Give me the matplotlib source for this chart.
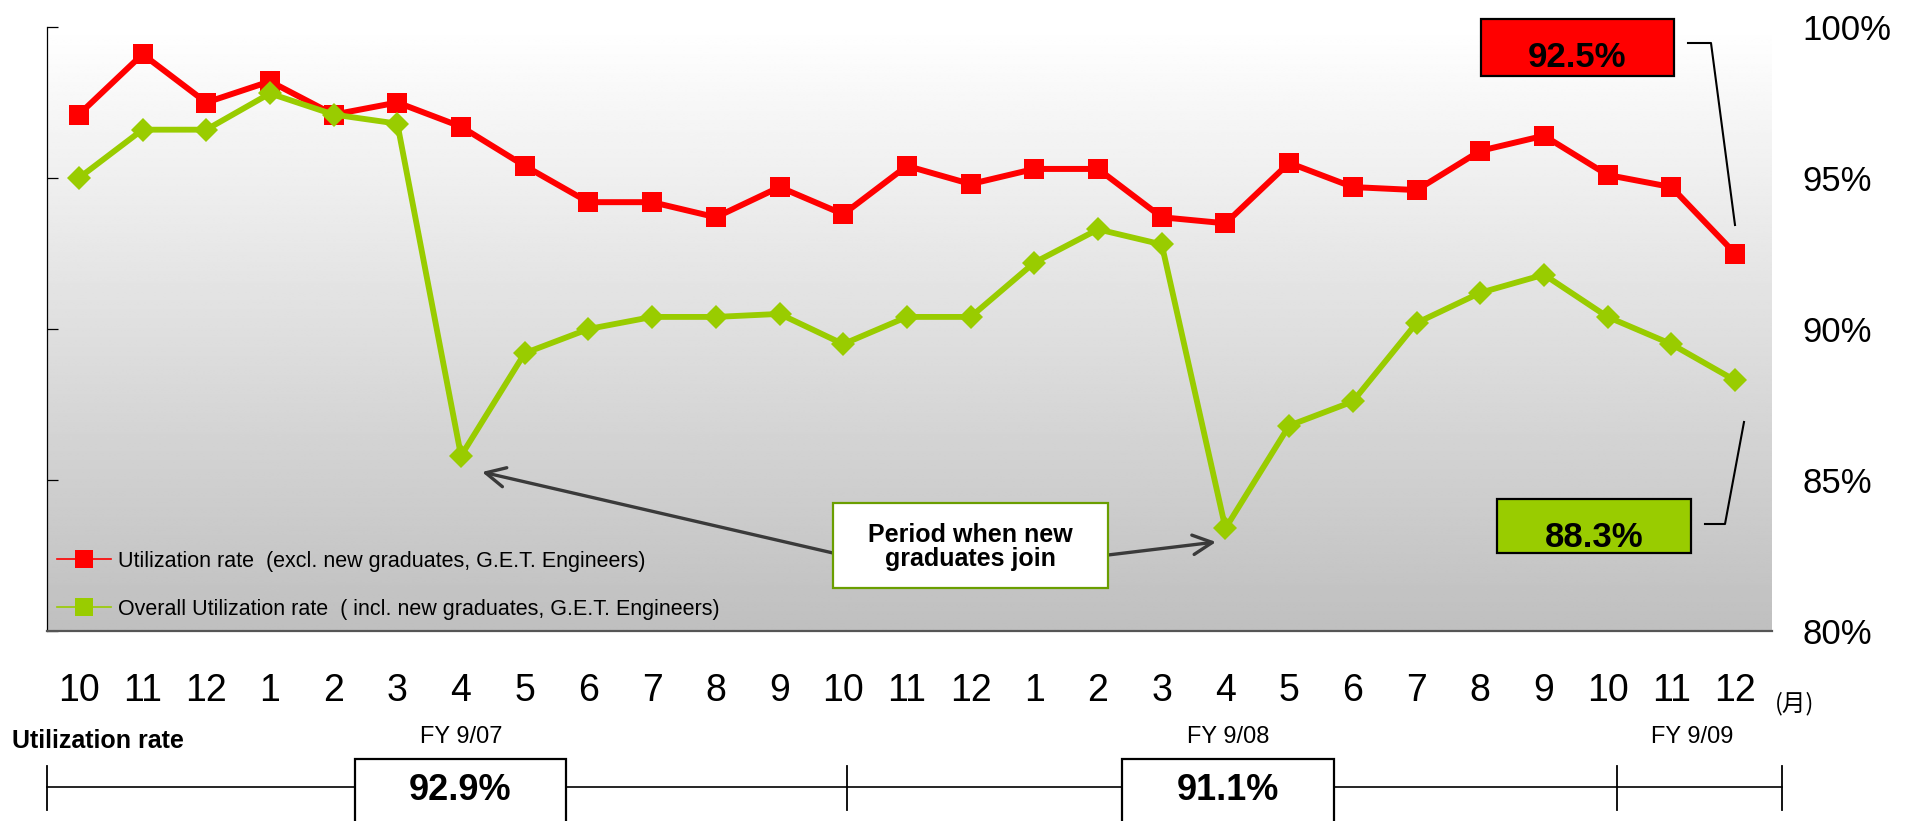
import numpy as np
import matplotlib
matplotlib.use("Agg")
import matplotlib.pyplot as plt
from matplotlib.lines import Line2D
from matplotlib.patches import Rectangle

plt.rcParams['font.family'] = ['Liberation Sans', 'DejaVu Sans']

# ---- data -------------------------------------------------------------
months = ["10", "11", "12",
          "1", "2", "3", "4", "5", "6", "7", "8", "9", "10", "11", "12",
          "1", "2", "3", "4", "5", "6", "7", "8", "9", "10", "11", "12"]

util_excl = [97.1, 99.1, 97.5, 98.2, 97.1, 97.5, 96.7, 95.4, 94.2, 94.2,
             93.7, 94.7, 93.8, 95.4, 94.8, 95.3, 95.3, 93.7, 93.5, 95.5,
             94.7, 94.6, 95.9, 96.4, 95.1, 94.7, 92.5]

util_incl = [95.0, 96.6, 96.6, 97.8, 97.1, 96.8, 85.8, 89.2, 90.0, 90.4,
             90.4, 90.5, 89.5, 90.4, 90.4, 92.2, 93.3, 92.8, 83.4, 86.8,
             87.6, 90.2, 91.2, 91.8, 90.4, 89.5, 88.3]

series_labels = ["Utilization rate  (excl. new graduates, G.E.T. Engineers)",
                 "Overall Utilization rate  ( incl. new graduates, G.E.T. Engineers)"]

fy_labels = ["FY 9/07", "FY 9/08", "FY 9/09"]
fy_average = [92.9, 91.1]

y_ticks = [80, 85, 90, 95, 100]

RED = "#ff0000"
GREEN = "#99cc00"

# ---- figure -----------------------------------------------------------
W, H = 1916, 821
fig = plt.figure(figsize=(W / 100, H / 100), dpi=100)

def fx(px):
    return px / W

def fy(py):
    return 1 - py / H

ax_l, ax_r, ax_t, ax_b = 47, 1772, 27, 631
ax = fig.add_axes([fx(ax_l), fy(ax_b), fx(ax_r - ax_l), (ax_b - ax_t) / H])

x = np.arange(len(months))
xlim = (-0.5, 26.58)
ax.set_xlim(*xlim)
ax.set_ylim(80, 100)

# vertical grey gradient behind the plot
grad = np.linspace(1.0, 0.75, 256)[:, None] * np.ones((1, 4))
ax.imshow(grad, extent=[xlim[0], xlim[1], 80, 100], origin="upper",
          aspect="auto", cmap="gray", vmin=0, vmax=1, zorder=0,
          interpolation="bilinear")

ax.plot(x, util_excl, color=RED, lw=4.3, marker="s", ms=14.5, mew=0,
        zorder=3, clip_on=False)
ax.plot(x, util_incl, color=GREEN, lw=4.2, marker="D", ms=12.5, mew=0,
        zorder=4, clip_on=False)

# axes styling
for side in ("top", "right"):
    ax.spines[side].set_visible(False)
ax.spines["left"].set_color("black")
ax.spines["left"].set_linewidth(0.9)
ax.spines["bottom"].set_color("#555555")
ax.spines["bottom"].set_linewidth(1.6)

ax.set_yticks(y_ticks)
ax.set_yticklabels([f"{v}%" for v in y_ticks])
ax.tick_params(axis="y", direction="in", left=True, right=False,
               labelleft=False, labelright=True, length=8, width=0.9,
               pad=22, labelsize=25)
for t in ax.get_yticklabels():
    t.set_horizontalalignment("left")

ax.set_xticks(x)
ax.set_xticklabels(months)
ax.tick_params(axis="x", length=0, pad=30, labelsize=27)

# legend
handles = [Line2D([], [], color=RED, lw=1.2, marker="s", ms=13, mew=0),
           Line2D([], [], color=GREEN, lw=1.2, marker="s", ms=13, mew=0)]
ax.legend(handles, series_labels, loc="upper left",
          bbox_to_anchor=(fx(57), fy(551)), bbox_transform=fig.transFigure,
          frameon=False, fontsize=15.5, numpoints=1, handlelength=2.5,
          handletextpad=0.33, labelspacing=1.25, borderpad=0,
          borderaxespad=0)

# ---- overlay in pixel coordinates ------------------------------------
ov = fig.add_axes([0, 0, 1, 1], zorder=5)
ov.set_xlim(0, W)
ov.set_ylim(H, 0)
ov.axis("off")

# note box with arrows to the April dips
arrow_kw = dict(arrowstyle="->,head_length=0.7,head_width=0.35",
                color="#3a3a3a", lw=2.4, shrinkA=0, shrinkB=0,
                mutation_scale=20)
ov.annotate("", xy=(482, 472), xytext=(833, 553), arrowprops=arrow_kw)
ov.annotate("", xy=(1216, 542), xytext=(1108, 555), arrowprops=arrow_kw)
ov.add_patch(Rectangle((833, 503), 275, 85, facecolor="white",
                       edgecolor="#6a9e00", lw=1.6, zorder=3))
ov.text(970, 547, "Period when new\ngraduates join", ha="center",
        va="center", fontsize=18, fontweight="bold", linespacing=0.98,
        zorder=4)

# callouts for the latest values
ov.add_patch(Rectangle((1481, 19), 193, 57, facecolor=RED,
                       edgecolor="black", lw=1.6))
ov.text(1577, 67, f"{util_excl[-1]:.1f}%", ha="center", va="baseline",
        fontsize=25, fontweight="bold")
ov.plot([1688, 1711, 1735], [43, 43, 225], color="black", lw=1.5)

ov.add_patch(Rectangle((1497, 499), 194, 54, facecolor=GREEN,
                       edgecolor="black", lw=1.6))
ov.text(1594, 547, f"{util_incl[-1]:.1f}%", ha="center", va="baseline",
        fontsize=25, fontweight="bold")
ov.plot([1705, 1725, 1744], [524, 524, 422], color="black", lw=1.5)

# month unit
ov.text(1775, 704, "(月)", ha="left", va="center", fontsize=17,
        family=["Noto Sans CJK JP", "DejaVu Sans"])

# fiscal-year strip
ov.text(12, 741, "Utilization rate", ha="left", va="center",
        fontsize=18, fontweight="bold")
ov.plot([47, 1782], [787, 787], color="black", lw=1.2)
for tx in (47, 847, 1617, 1782):
    ov.plot([tx, tx], [766, 810], color="black", lw=1.3)

fy_label_x = [461, 1228, 1692]
for lx, lab in zip(fy_label_x, fy_labels):
    ov.text(lx, 737, lab, ha="center", va="center", fontsize=17)

box_x = [(355, 566), (1122, 1334)]
for (x0, x1), avg in zip(box_x, fy_average):
    ov.add_patch(Rectangle((x0, 759), x1 - x0, 90, facecolor="white",
                           edgecolor="black", lw=1.6, zorder=3))
    ov.text((x0 + x1) / 2, 790, f"{avg:.1f}%", ha="center", va="center",
            fontsize=26, fontweight="bold", zorder=4)

fig.savefig("out.png", dpi=100)
